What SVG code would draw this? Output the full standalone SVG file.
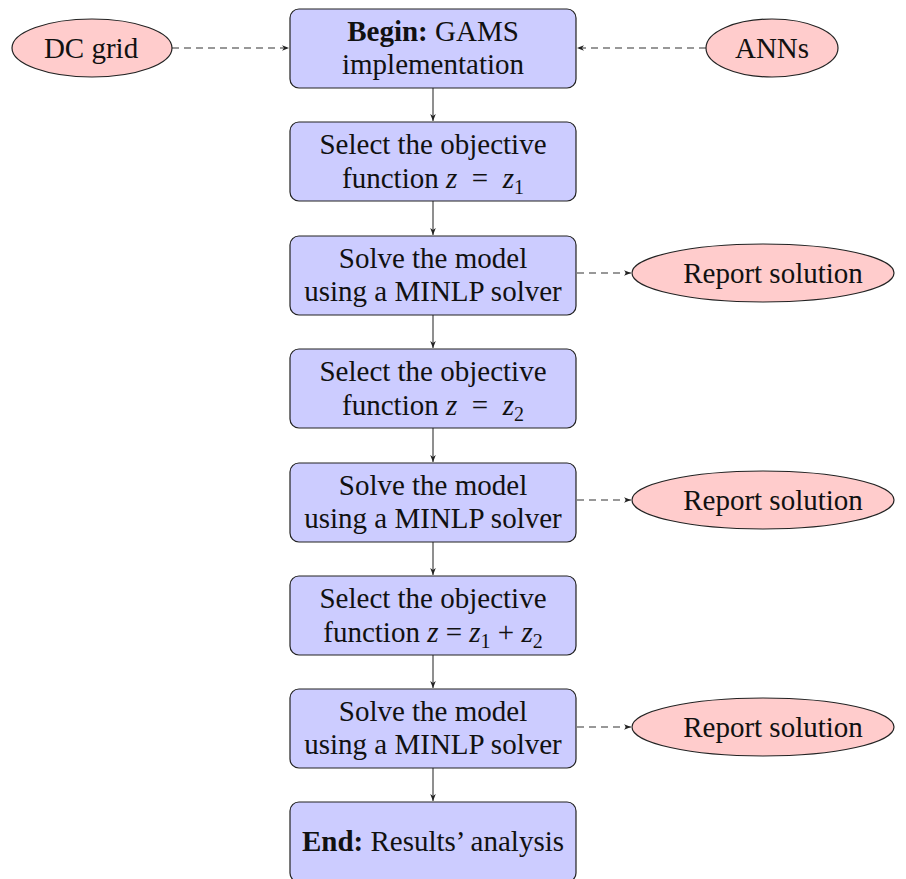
<svg xmlns="http://www.w3.org/2000/svg" width="906" height="879" viewBox="0 0 906 879">
<defs>
<style>
.box{fill:#ccccff;stroke:#222;stroke-width:1.2}
.ell{fill:#ffcccc;stroke:#222;stroke-width:1.2}
.t{font-family:"Liberation Serif","Times New Roman",serif;font-size:29px;fill:#111;text-anchor:middle}
.b{font-weight:bold}
.m{font-style:italic}
.s{font-size:20px}
.c{stroke:#333;stroke-width:1.1;fill:none}
.d{stroke-dasharray:7,5}
</style>
<marker id="ah" viewBox="0 0 10 10" refX="10" refY="5" markerWidth="7" markerHeight="7" orient="auto" markerUnits="userSpaceOnUse">
<path d="M0,1 L10,5 L0,9 L3,5 Z" fill="#222"/>
</marker>
</defs>
<g id="connectors">
<line class="c d" x1="172" y1="48" x2="289" y2="48" marker-end="url(#ah)"/>
<line class="c d" x1="706" y1="48" x2="577" y2="48" marker-end="url(#ah)"/>
<line class="c" x1="433" y1="88" x2="433" y2="121" marker-end="url(#ah)"/>
<line class="c" x1="433" y1="201" x2="433" y2="235" marker-end="url(#ah)"/>
<line class="c" x1="433" y1="315" x2="433" y2="348" marker-end="url(#ah)"/>
<line class="c" x1="433" y1="428" x2="433" y2="462" marker-end="url(#ah)"/>
<line class="c" x1="433" y1="542" x2="433" y2="575" marker-end="url(#ah)"/>
<line class="c" x1="433" y1="655" x2="433" y2="688" marker-end="url(#ah)"/>
<line class="c" x1="433" y1="768" x2="433" y2="801" marker-end="url(#ah)"/>
<line class="c d" x1="577" y1="273" x2="631" y2="273" marker-end="url(#ah)"/>
<line class="c d" x1="577" y1="500" x2="631" y2="500" marker-end="url(#ah)"/>
<line class="c d" x1="577" y1="727" x2="631" y2="727" marker-end="url(#ah)"/>
</g>
<g id="dcgrid">
<ellipse class="ell" cx="92" cy="48" rx="80" ry="29"/>
<text class="t" x="91" y="58">DC grid</text>
</g>
<g id="anns">
<ellipse class="ell" cx="772" cy="48" rx="66" ry="29"/>
<text class="t" x="772" y="58">ANNs</text>
</g>
<g id="begin">
<rect class="box" x="290" y="9" width="286" height="79" rx="9"/>
<text class="t" x="433" y="41"><tspan class="b">Begin:</tspan> GAMS</text>
<text class="t" x="433" y="74">implementation</text>
</g>
<g id="obj1">
<rect class="box" x="290" y="122" width="286" height="79" rx="9"/>
<text class="t" x="433" y="154">Select the objective</text>
<text class="t" x="433" y="188">function <tspan class="m">z</tspan>&#160; = &#160;<tspan class="m">z</tspan><tspan class="s" dy="6">1</tspan></text>
</g>
<g id="solve1">
<rect class="box" x="290" y="236" width="286" height="79" rx="9"/>
<text class="t" x="433" y="268">Solve the model</text>
<text class="t" x="433" y="301">using a MINLP solver</text>
</g>
<g id="report1">
<ellipse class="ell" cx="763" cy="273" rx="131" ry="29"/>
<text class="t" x="773" y="283">Report solution</text>
</g>
<g id="obj2">
<rect class="box" x="290" y="349" width="286" height="79" rx="9"/>
<text class="t" x="433" y="381">Select the objective</text>
<text class="t" x="433" y="415">function <tspan class="m">z</tspan>&#160; = &#160;<tspan class="m">z</tspan><tspan class="s" dy="6">2</tspan></text>
</g>
<g id="solve2">
<rect class="box" x="290" y="463" width="286" height="79" rx="9"/>
<text class="t" x="433" y="495">Solve the model</text>
<text class="t" x="433" y="528">using a MINLP solver</text>
</g>
<g id="report2">
<ellipse class="ell" cx="763" cy="500" rx="131" ry="29"/>
<text class="t" x="773" y="510">Report solution</text>
</g>
<g id="obj3">
<rect class="box" x="290" y="576" width="286" height="79" rx="9"/>
<text class="t" x="433" y="608">Select the objective</text>
<text class="t" x="433" y="642">function <tspan class="m">z</tspan> = <tspan class="m">z</tspan><tspan class="s" dy="6">1</tspan><tspan dy="-6"> + </tspan><tspan class="m">z</tspan><tspan class="s" dy="6">2</tspan></text>
</g>
<g id="solve3">
<rect class="box" x="290" y="689" width="286" height="79" rx="9"/>
<text class="t" x="433" y="721">Solve the model</text>
<text class="t" x="433" y="754">using a MINLP solver</text>
</g>
<g id="report3">
<ellipse class="ell" cx="763" cy="727" rx="131" ry="29"/>
<text class="t" x="773" y="737">Report solution</text>
</g>
<g id="end">
<rect class="box" x="290" y="802" width="286" height="80" rx="9"/>
<text class="t" x="433" y="851"><tspan class="b">End:</tspan> Results’ analysis</text>
</g>
</svg>
